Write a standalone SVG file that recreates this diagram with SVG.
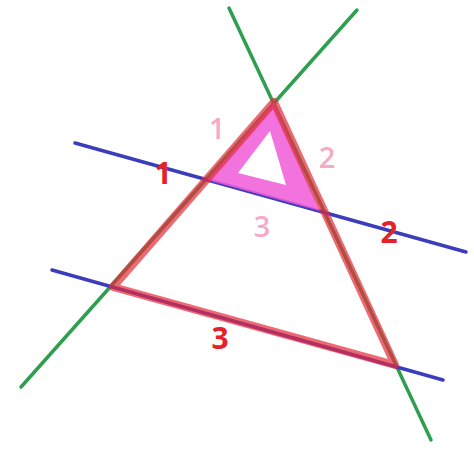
<svg xmlns="http://www.w3.org/2000/svg" width="474" height="451" viewBox="0 0 474 451">
<style>
.g{stroke:#2e9e4f;stroke-width:3.5;stroke-linecap:round;fill:none}
.b{stroke:#3b3dbb;stroke-width:3.5;stroke-linecap:round;fill:none}
.tri{stroke:#e52b3a;stroke-width:8;stroke-opacity:0.7;fill:none;stroke-linejoin:round}
.lr{font-family:"Open Sans","Liberation Sans",sans-serif;font-weight:bold;font-size:30px;fill:#e8202a;text-anchor:middle}
.lp{font-family:"Open Sans","Liberation Sans",sans-serif;font-weight:600;font-size:29px;fill:#f8a9c6;text-anchor:middle}
</style>
<rect width="474" height="451" fill="#fff"/>
<g id="lines">
<line class="g" x1="229" y1="8" x2="431" y2="440"/>
<line class="g" x1="357" y1="10" x2="21" y2="387"/>
<line class="b" x1="75" y1="143" x2="466" y2="252"/>
<line class="b" x1="52" y1="270" x2="443" y2="380"/>
</g>
<g id="small-triangle">
<path d="M274,102 L207,180 L320,211 Z M270,131 L238,173 L286,185 Z" fill="#f05ad8" fill-opacity="0.85" fill-rule="evenodd"/>
</g>
<g id="big-triangle">
<path class="tri" d="M274,102 L113,287 L395,365 Z"/>
</g>
<g id="labels">
<text class="lp" x="217" y="139">1</text>
<text class="lp" x="327" y="168">2</text>
<text class="lp" x="262" y="237">3</text>
<text class="lr" x="163" y="184">1</text>
<text class="lr" x="389" y="243">2</text>
<text class="lr" x="220" y="349">3</text>
</g>
</svg>
